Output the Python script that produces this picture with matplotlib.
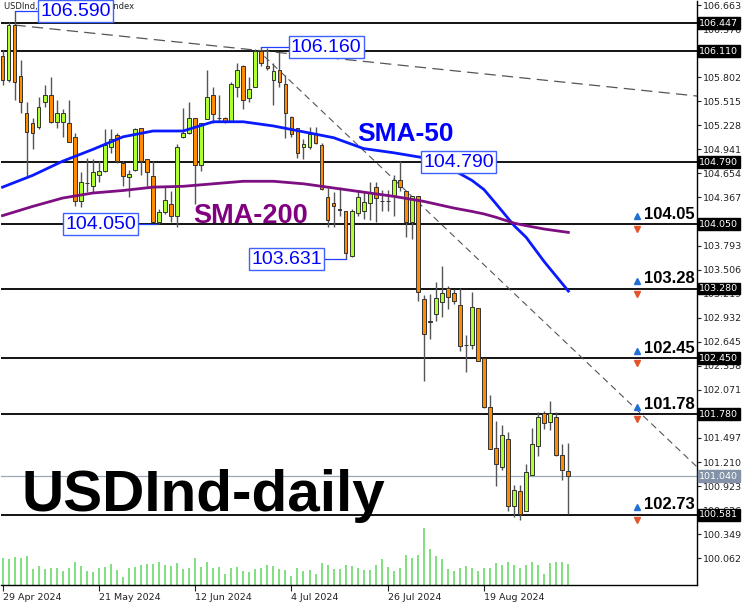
import matplotlib
matplotlib.use("Agg")
import matplotlib.pyplot as plt
import matplotlib.transforms as mtransforms

# daily candles, 29 Apr 2024 .. 6 Sep 2024 (bar index = position)
opens = [106.06, 105.77, 106.43, 105.82, 105.38, 105.26, 105.21, 105.50, 105.59, 105.27,
         105.27, 105.25, 105.09, 104.32, 104.54, 104.50, 104.63, 104.68, 104.97, 105.11,
         104.78, 104.61, 104.70, 105.19, 104.82, 104.62, 104.08, 104.19, 104.29, 104.14,
         105.09, 105.14, 105.31, 104.75, 105.30, 105.59, 105.31, 105.31, 105.28, 105.69,
         105.93, 105.55, 105.69, 106.12, 105.94, 105.77, 105.89, 105.72, 105.33, 105.20,
         104.97, 104.97, 105.12, 104.99, 104.37, 104.30, 104.23, 104.20, 103.67, 104.18,
         104.20, 104.30, 104.49, 104.33, 104.33, 104.39, 104.57, 104.44, 104.07, 104.38,
         103.16, 102.89, 102.98, 103.12, 103.29, 103.23, 103.08, 102.61, 102.61, 103.05,
         102.45, 101.87, 101.38, 101.15, 101.48, 100.68, 100.87, 100.62, 101.05, 101.40,
         101.79, 101.69, 101.75, 101.29, 101.10]
highs = [106.13, 106.46, 106.59, 106.01, 105.50, 105.32, 105.57, 105.71, 105.81, 105.53,
         105.42, 105.53, 105.14, 104.67, 104.84, 104.82, 104.80, 105.18, 105.18, 105.14,
         104.80, 104.70, 105.20, 105.20, 104.82, 104.80, 104.23, 104.49, 104.44, 105.00,
         105.44, 105.50, 105.32, 105.26, 105.89, 105.69, 105.59, 105.33, 105.74, 105.97,
         105.95, 105.81, 106.14, 106.16, 106.15, 105.97, 106.10, 105.83, 105.34, 105.20,
         105.06, 105.21, 105.21, 105.02, 104.48, 104.43, 104.49, 104.21, 104.23, 104.46,
         104.43, 104.55, 104.55, 104.46, 104.46, 104.64, 104.80, 104.44, 104.38, 104.38,
         103.20, 103.21, 103.36, 103.55, 103.31, 103.27, 103.29, 102.72, 103.24, 103.05,
         102.45, 102.01, 101.70, 101.65, 101.57, 100.94, 100.94, 101.19, 101.62, 101.81,
         101.82, 101.94, 101.81, 101.43, 101.44]
lows = [105.71, 105.74, 105.53, 105.38, 104.62, 104.94, 105.18, 105.45, 105.26, 105.20,
        105.09, 105.03, 104.26, 104.25, 104.43, 104.43, 104.55, 104.67, 104.90, 104.78,
        104.50, 104.37, 104.68, 104.64, 104.50, 104.08, 104.05, 104.17, 104.08, 104.02,
        105.08, 105.13, 104.29, 104.68, 105.30, 105.26, 105.27, 105.26, 105.27, 105.57,
        105.42, 105.51, 105.69, 105.93, 105.89, 105.47, 105.69, 105.08, 105.09, 104.84,
        104.82, 104.94, 105.00, 104.46, 104.02, 104.01, 104.14, 103.63, 103.66, 104.14,
        104.11, 104.10, 104.08, 104.20, 104.20, 104.14, 104.44, 103.89, 103.87, 103.13,
        102.18, 102.68, 102.89, 102.94, 103.04, 103.10, 102.54, 102.28, 102.56, 102.41,
        101.85, 101.37, 100.92, 101.11, 100.62, 100.56, 100.52, 100.62, 101.05, 101.28,
        101.61, 101.59, 101.28, 100.99, 100.59]
closes = [105.77, 106.43, 105.74, 105.50, 105.15, 105.14, 105.45, 105.59, 105.27, 105.37,
          105.37, 105.03, 104.32, 104.55, 104.54, 104.67, 104.68, 104.99, 105.06, 104.80,
          104.62, 104.65, 105.18, 104.80, 104.67, 104.08, 104.19, 104.34, 104.14, 104.97,
          105.14, 105.31, 104.75, 105.26, 105.57, 105.36, 105.31, 105.28, 105.72, 105.89,
          105.53, 105.66, 106.12, 105.97, 105.91, 105.87, 105.74, 105.38, 105.12, 104.90,
          105.01, 105.12, 105.02, 104.47, 104.10, 104.26, 104.22, 103.71, 104.20, 104.37,
          104.31, 104.43, 104.36, 104.33, 104.32, 104.58, 104.49, 104.07, 104.38, 103.24,
          102.74, 102.88, 103.17, 103.23, 103.18, 103.13, 102.60, 102.61, 103.06, 102.42,
          101.87, 101.37, 101.19, 101.53, 100.69, 100.88, 100.59, 101.09, 101.42, 101.75,
          101.67, 101.79, 101.30, 101.11, 101.04]
volumes = [80, 78, 85, 82, 87, 48, 58, 48, 52, 50,
           43, 52, 68, 58, 42, 40, 50, 55, 63, 45,
           25, 52, 55, 60, 63, 62, 68, 60, 58, 66,
           48, 52, 80, 55, 70, 50, 55, 32, 52, 55,
           43, 40, 48, 50, 60, 57, 48, 45, 28, 52,
           42, 45, 33, 67, 60, 48, 48, 60, 58, 50,
           45, 45, 60, 78, 55, 43, 52, 90, 80, 90,
           172, 107, 88, 78, 48, 43, 52, 58, 50, 43,
           50, 52, 66, 60, 68, 60, 52, 60, 68, 60,
           32, 66, 69, 69, 62]

# moving averages at a few bars
ma_idx = [0, 5, 10, 15, 20, 25, 30, 35, 40, 45, 50, 55, 60, 65, 70, 75, 78, 80, 82, 85, 87, 90, 94]
sma50 = [104.49, 104.63, 104.80, 104.94, 105.09, 105.16, 105.16, 105.27, 105.27, 105.22,
         105.15, 105.08, 104.95, 104.90, 104.84, 104.69, 104.57, 104.46, 104.29, 104.03,
         103.89, 103.60, 103.25]
sma200 = [104.15, 104.26, 104.36, 104.42, 104.45, 104.49, 104.50, 104.53, 104.56, 104.56,
          104.53, 104.48, 104.43, 104.38, 104.32, 104.24, 104.20, 104.17, 104.13, 104.06,
          104.03, 103.99, 103.95]

levels = [106.447, 106.110, 104.790, 104.050, 103.280, 102.450, 101.780, 100.581]
last_price = 101.040
# scale labels that are not hidden behind a level tag
yticks = [106.663, 106.376, 105.802, 105.515, 105.228, 104.941, 104.654, 104.367,
          103.793, 103.506, 103.219, 102.932, 102.645, 102.358, 102.071,
          101.497, 101.210, 100.923, 100.636, 100.349, 100.062]
date_pos = [0, 16, 32, 48, 64, 80]
date_labels = ["29 Apr 2024", "21 May 2024", "12 Jun 2024", "4 Jul 2024", "26 Jul 2024", "19 Aug 2024"]

# price callouts: (value, bar where the box starts, connector from, connector to)
callouts = [(106.590, 5.8, 2, 5.8), (106.160, 47.4, 43, 47.4), (104.790, 69.4, None, None),
            (104.050, 9.9, 22.4, 25.7), (103.631, 40.8, 53.0, 57)]
right_tags = ["104.05", "103.28", "102.45", "101.78", "102.73"]
right_tag_lv = [104.050, 103.280, 102.450, 101.780, 100.581]

# trend lines (bar, price)
trend1 = ([2, 115.4], [106.424, 105.577])
trend2 = ([43.5, 115.4], [106.05, 101.15])

ORANGE = "#ff8c00"
GREEN = "#adff2f"
BLUE_TXT = "#0000ff"

fig = plt.figure(figsize=(7.52, 6.02), dpi=100)
W, H = 752, 602
rect = [1 / W, (H - 585) / H, 696 / W, 584 / H]
axv = fig.add_axes(rect)
ax = fig.add_axes(rect, sharex=axv)
ax.patch.set_alpha(0)

# volumes in the bottom of the chart
n = len(closes)
xs = list(range(n))
axv.vlines(xs, 0, volumes, color="#7fe07f", lw=1.4)
axv.set_ylim(0, 1752)
axv.axis("off")

ax.set_xlim(-0.25, 115.37)
ax.set_ylim(99.743, 106.711)

for lv in levels:
    ax.axhline(lv, color="black", lw=1.3, zorder=2)
ax.axhline(last_price, color="#9aa8b8", lw=0.9, zorder=2)

ax.plot(trend1[0], trend1[1], color="#555555", lw=0.9, dashes=(9, 5), zorder=2)
ax.plot(trend2[0], trend2[1], color="#555555", lw=0.8, dashes=(6, 4), zorder=2)

# candles
for i in xs:
    o, h, l, c = opens[i], highs[i], lows[i], closes[i]
    ax.vlines(i, l, h, color="#555555", lw=1, zorder=3)
    col = GREEN if c > o else ORANGE
    ax.bar(i, abs(c - o), bottom=min(o, c), width=0.62, color=col,
           edgecolor="#333333", lw=0.7, zorder=4)

ax.plot(ma_idx, sma50, color="#0a1aff", lw=2, zorder=5)
ax.plot(ma_idx, sma200, color="#7d0f82", lw=2, zorder=5)

# callout boxes
for val, xb, c0, c1 in callouts:
    if c0 is not None:
        ax.plot([c0, c1], [val, val], color="#2040ff", lw=0.9, zorder=6)
    ax.text(xb + 0.5, val, f"{val:.3f}", family="Liberation Sans", fontsize=14, color=BLUE_TXT,
            ha="left", va="center", zorder=8,
            bbox=dict(boxstyle="square,pad=0.12", fc="white", ec="#4060ff", lw=1))

ax.text(0.004, 0.998, "USDInd, Daily:  US Dollar Index", transform=ax.transAxes, fontsize=6,
        family="DejaVu Sans", color="#222222", ha="left", va="top", zorder=7)

ax.text(58.9, 105.04, "SMA-50", family="Liberation Sans", fontweight="bold", fontsize=19,
        color="#0000ff", ha="left", va="baseline", zorder=8)
ax.text(31.7, 104.062, "SMA-200", family="Liberation Sans", fontweight="bold", fontsize=19.5,
        color="#800080", ha="left", va="baseline", zorder=8)
ax.text(3.2, 100.627, "USDInd-daily", family="Liberation Sans", fontweight="bold", fontsize=42,
        color="black", ha="left", va="baseline", zorder=8)

for tag, lv in zip(right_tags, right_tag_lv):
    ax.text(106.6, lv + 0.03, tag, family="Liberation Sans", fontweight="bold", fontsize=12,
            color="black", ha="left", va="bottom", zorder=8)
    ax.plot(105.4, lv + 0.09, marker="^", ms=5, color="#1f6fd6", zorder=8)
    ax.plot(105.4, lv - 0.06, marker="v", ms=5, color="#e5532b", zorder=8)

# right price scale
ax.yaxis.tick_right()
ax.set_yticks(yticks)
ax.set_yticklabels([f"{t:.3f}" for t in yticks])
ax.tick_params(axis="y", length=3, width=0.8, pad=1, labelsize=6.8, colors="#222222")
ax.set_xticks(date_pos)
ax.set_xticklabels(date_labels, ha="left")
ax.tick_params(axis="x", length=4, width=0.8, pad=2, labelsize=6.8, colors="#222222")
for lbl in ax.get_xticklabels() + ax.get_yticklabels():
    lbl.set_family("DejaVu Sans")

ax.spines["top"].set_visible(False)
ax.spines["left"].set_visible(False)
ax.spines["right"].set_linewidth(1)
ax.spines["bottom"].set_linewidth(1)

# level tags on the scale
tr = mtransforms.blended_transform_factory(ax.transAxes, ax.transData)
for lv in levels:
    ax.text(1.003, lv, f"{lv:.3f}", transform=tr, fontsize=6.8, family="DejaVu Sans",
            color="white", ha="left", va="center", zorder=9, clip_on=False,
            bbox=dict(boxstyle="square,pad=0.15", fc="black", ec="black"))
ax.text(1.003, last_price, f"{last_price:.3f}", transform=tr, fontsize=6.8, family="DejaVu Sans",
        color="white", ha="left", va="center", zorder=9, clip_on=False,
        bbox=dict(boxstyle="square,pad=0.15", fc="#8392a6", ec="#8392a6"))

fig.savefig("out.png", dpi=100)
